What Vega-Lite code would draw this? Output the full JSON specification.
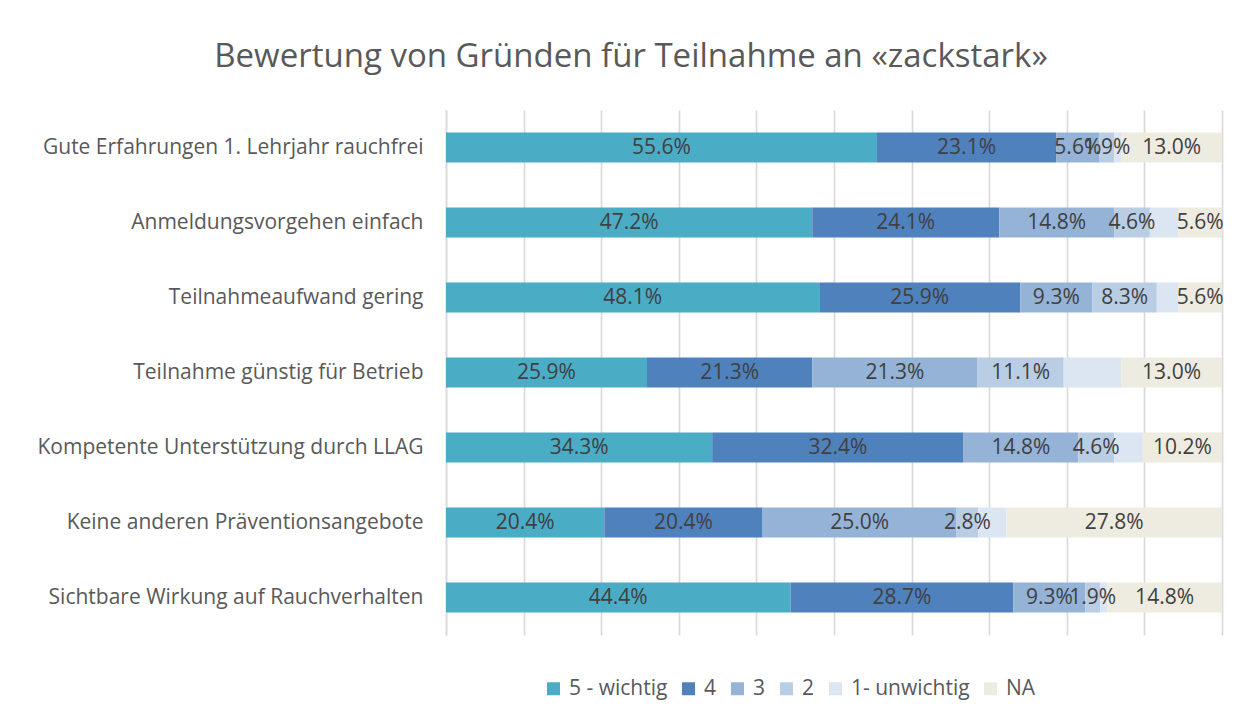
{
  "$schema": "https://vega.github.io/schema/vega-lite/v6.json",
  "autosize": {"type": "none"},
  "width": 776,
  "height": 525,
  "padding": {"left": 446, "top": 110, "right": 17, "bottom": 81},
  "background": "white",
  "config": {
    "font": "Open Sans",
    "view": {"stroke": null}
  },
  "title": {
    "text": "Bewertung von Gründen für Teilnahme an «zackstark»",
    "fontSize": 33,
    "fontWeight": "normal",
    "color": "#595959",
    "anchor": "middle",
    "frame": "group",
    "dx": -203,
    "offset": 36
  },
  "data": {
    "values": [
      {"cat": "Gute Erfahrungen 1. Lehrjahr rauchfrei", "s": "5 - wichtig", "rank": 1, "value": 0.556},
      {"cat": "Gute Erfahrungen 1. Lehrjahr rauchfrei", "s": "4", "rank": 2, "value": 0.231},
      {"cat": "Gute Erfahrungen 1. Lehrjahr rauchfrei", "s": "3", "rank": 3, "value": 0.056},
      {"cat": "Gute Erfahrungen 1. Lehrjahr rauchfrei", "s": "2", "rank": 4, "value": 0.019},
      {"cat": "Gute Erfahrungen 1. Lehrjahr rauchfrei", "s": "1- unwichtig", "rank": 5, "value": 0.009},
      {"cat": "Gute Erfahrungen 1. Lehrjahr rauchfrei", "s": "NA", "rank": 6, "value": 0.130},
      {"cat": "Anmeldungsvorgehen einfach", "s": "5 - wichtig", "rank": 1, "value": 0.472},
      {"cat": "Anmeldungsvorgehen einfach", "s": "4", "rank": 2, "value": 0.241},
      {"cat": "Anmeldungsvorgehen einfach", "s": "3", "rank": 3, "value": 0.148},
      {"cat": "Anmeldungsvorgehen einfach", "s": "2", "rank": 4, "value": 0.046},
      {"cat": "Anmeldungsvorgehen einfach", "s": "1- unwichtig", "rank": 5, "value": 0.037},
      {"cat": "Anmeldungsvorgehen einfach", "s": "NA", "rank": 6, "value": 0.056},
      {"cat": "Teilnahmeaufwand gering", "s": "5 - wichtig", "rank": 1, "value": 0.481},
      {"cat": "Teilnahmeaufwand gering", "s": "4", "rank": 2, "value": 0.259},
      {"cat": "Teilnahmeaufwand gering", "s": "3", "rank": 3, "value": 0.093},
      {"cat": "Teilnahmeaufwand gering", "s": "2", "rank": 4, "value": 0.083},
      {"cat": "Teilnahmeaufwand gering", "s": "1- unwichtig", "rank": 5, "value": 0.028},
      {"cat": "Teilnahmeaufwand gering", "s": "NA", "rank": 6, "value": 0.056},
      {"cat": "Teilnahme günstig für Betrieb", "s": "5 - wichtig", "rank": 1, "value": 0.259},
      {"cat": "Teilnahme günstig für Betrieb", "s": "4", "rank": 2, "value": 0.213},
      {"cat": "Teilnahme günstig für Betrieb", "s": "3", "rank": 3, "value": 0.213},
      {"cat": "Teilnahme günstig für Betrieb", "s": "2", "rank": 4, "value": 0.111},
      {"cat": "Teilnahme günstig für Betrieb", "s": "1- unwichtig", "rank": 5, "value": 0.074},
      {"cat": "Teilnahme günstig für Betrieb", "s": "NA", "rank": 6, "value": 0.130},
      {"cat": "Kompetente Unterstützung durch LLAG", "s": "5 - wichtig", "rank": 1, "value": 0.343},
      {"cat": "Kompetente Unterstützung durch LLAG", "s": "4", "rank": 2, "value": 0.324},
      {"cat": "Kompetente Unterstützung durch LLAG", "s": "3", "rank": 3, "value": 0.148},
      {"cat": "Kompetente Unterstützung durch LLAG", "s": "2", "rank": 4, "value": 0.046},
      {"cat": "Kompetente Unterstützung durch LLAG", "s": "1- unwichtig", "rank": 5, "value": 0.037},
      {"cat": "Kompetente Unterstützung durch LLAG", "s": "NA", "rank": 6, "value": 0.102},
      {"cat": "Keine anderen Präventionsangebote", "s": "5 - wichtig", "rank": 1, "value": 0.204},
      {"cat": "Keine anderen Präventionsangebote", "s": "4", "rank": 2, "value": 0.204},
      {"cat": "Keine anderen Präventionsangebote", "s": "3", "rank": 3, "value": 0.250},
      {"cat": "Keine anderen Präventionsangebote", "s": "2", "rank": 4, "value": 0.028},
      {"cat": "Keine anderen Präventionsangebote", "s": "1- unwichtig", "rank": 5, "value": 0.036},
      {"cat": "Keine anderen Präventionsangebote", "s": "NA", "rank": 6, "value": 0.278},
      {"cat": "Sichtbare Wirkung auf Rauchverhalten", "s": "5 - wichtig", "rank": 1, "value": 0.444},
      {"cat": "Sichtbare Wirkung auf Rauchverhalten", "s": "4", "rank": 2, "value": 0.287},
      {"cat": "Sichtbare Wirkung auf Rauchverhalten", "s": "3", "rank": 3, "value": 0.093},
      {"cat": "Sichtbare Wirkung auf Rauchverhalten", "s": "2", "rank": 4, "value": 0.019},
      {"cat": "Sichtbare Wirkung auf Rauchverhalten", "s": "1- unwichtig", "rank": 5, "value": 0.009},
      {"cat": "Sichtbare Wirkung auf Rauchverhalten", "s": "NA", "rank": 6, "value": 0.148}
    ]
  },
  "encoding": {
    "y": {
      "field": "cat",
      "type": "nominal",
      "sort": null,
      "title": null,
      "scale": {"paddingInner": 0.6, "paddingOuter": 0.3},
      "axis": {
        "labelFontSize": 21,
        "labelColor": "#595959",
        "labelPadding": 23,
        "labelLimit": 600,
        "ticks": false,
        "domainColor": "#D9D9D9",
        "domainWidth": 1.5,
        "grid": false
      }
    }
  },
  "layer": [
    {
      "mark": {"type": "bar"},
      "encoding": {
        "x": {
          "field": "value",
          "type": "quantitative",
          "stack": "normalize",
          "title": null,
          "scale": {"domain": [0, 1]},
          "axis": {
            "values": [0, 0.1, 0.2, 0.3, 0.4, 0.5, 0.6, 0.7, 0.8, 0.9, 1],
            "labels": false,
            "ticks": false,
            "domain": false,
            "grid": true,
            "gridColor": "#D9D9D9",
            "gridWidth": 1.7,
            "title": null
          }
        },
        "color": {
          "field": "s",
          "type": "nominal",
          "scale": {
            "domain": ["5 - wichtig", "4", "3", "2", "1- unwichtig", "NA"],
            "range": ["#4BACC6", "#4F81BD", "#95B3D7", "#B9CDE5", "#DCE6F2", "#EEECE1"]
          },
          "legend": {
            "title": null,
            "orient": "none",
            "direction": "horizontal",
            "legendX": 97,
            "legendY": 568,
            "symbolType": "square",
            "symbolSize": 169,
            "symbolStrokeWidth": 0,
            "labelFontSize": 21,
            "labelColor": "#595959",
            "labelOffset": 5,
            "columnPadding": 10
          }
        },
        "order": {"field": "rank", "type": "quantitative"}
      }
    },
    {
      "transform": [
        {"stack": "value", "groupby": ["cat"], "sort": [{"field": "rank", "order": "ascending"}], "offset": "normalize", "as": ["x0", "x1"]},
        {"filter": "datum.s !== '1- unwichtig'"},
        {"fold": ["x0", "x1"], "as": ["edge", "pos"]}
      ],
      "mark": {"type": "text", "fontSize": 21, "color": "#404040", "align": "center", "baseline": "middle"},
      "encoding": {
        "x": {
          "field": "pos",
          "aggregate": "mean",
          "type": "quantitative",
          "title": null,
          "axis": {
            "values": [0, 0.1, 0.2, 0.3, 0.4, 0.5, 0.6, 0.7, 0.8, 0.9, 1],
            "labels": false,
            "ticks": false,
            "domain": false,
            "grid": true,
            "gridColor": "#D9D9D9",
            "gridWidth": 1.7,
            "title": null
          }
        },
        "detail": {"field": "s", "type": "nominal"},
        "text": {"field": "value", "type": "quantitative", "format": ".1%"}
      }
    }
  ]
}
